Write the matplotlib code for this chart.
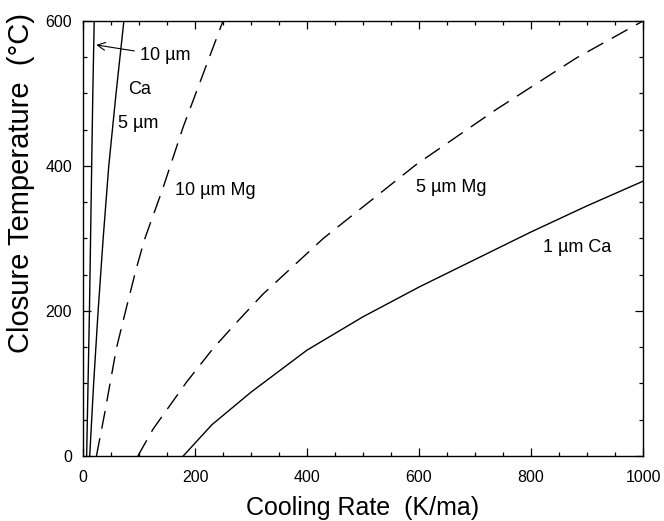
import numpy as np
import matplotlib
matplotlib.use("Agg")
import matplotlib.pyplot as plt
from matplotlib.ticker import MultipleLocator

plt.rcParams['font.family'] = ['Liberation Sans', 'DejaVu Sans']

# curves: cooling rate (K/ma) vs closure temperature (C)
ca10_rate = [6.5, 9, 11.5, 13.5, 15.5, 17.5, 20]
ca10_temp = [0, 100, 200, 300, 400, 500, 600]

ca5_rate = [12, 19, 27, 36, 46, 59, 73]
ca5_temp = [0, 100, 200, 300, 400, 500, 600]

mg10_rate = [24, 39, 59.5, 77, 95, 110, 143, 178.5, 214, 250]
mg10_temp = [0, 60, 148, 203, 258, 299, 370, 453, 526, 600]

mg5_rate = [98, 125, 185, 232, 274, 321, 363, 429, 494, 595, 738, 881, 1000]
mg5_temp = [0, 37, 102, 148, 184, 223, 253, 300, 340, 402, 478, 549, 600]

ca1_rate = [179, 230, 300, 400, 500, 600, 700, 800, 900, 1000]
ca1_temp = [0, 43, 88, 146, 192, 233, 271, 309, 345, 379]

x_ticks = [0, 200, 400, 600, 800, 1000]
y_ticks = [0, 200, 400, 600]


fig = plt.figure(figsize=(6.64, 5.21), dpi=100)
ax = fig.add_axes([0.125, 0.1248, 0.8434, 0.8349])

ax.plot(ca10_rate, ca10_temp, color='black', lw=1.0)
ax.plot(ca5_rate, ca5_temp, color='black', lw=1.0)
ax.plot(mg10_rate, mg10_temp, color='black', lw=1.0, dashes=(13, 7))
ax.plot(mg5_rate, mg5_temp, color='black', lw=1.0, dashes=(13, 7))
ax.plot(ca1_rate, ca1_temp, color='black', lw=1.0)

ax.set_xlim(0, 1000)
ax.set_ylim(0, 600)
ax.set_xticks(x_ticks)
ax.set_yticks(y_ticks)
ax.xaxis.set_minor_locator(MultipleLocator(50))
ax.yaxis.set_minor_locator(MultipleLocator(50))

# ticks inside on all four sides
ax.tick_params(which='both', direction='in', top=True, right=True, width=0.9)
ax.tick_params(which='major', length=6, labelsize=11.5)
ax.tick_params(which='minor', length=3.2)
ax.tick_params(axis='x', which='major', pad=10)
ax.tick_params(axis='y', which='major', pad=8)
for s in ax.spines.values():
    s.set_linewidth(1.0)

ax.set_xlabel('Cooling Rate  (K/ma)', fontsize=18)
ax.set_ylabel('Closure Temperature  (°C)', fontsize=21)
ax.xaxis.set_label_coords(0.5, -0.092)
ax.yaxis.set_label_coords(-0.085, 0.628)

# curve labels
ax.annotate('10 µm', xy=(23.5, 567), xytext=(101.5, 552), ha='left', va='center',
            fontsize=13,
            arrowprops=dict(arrowstyle='->', lw=0.8, color='black',
                            shrinkA=2, shrinkB=0, mutation_scale=14))
ax.text(80, 505, 'Ca', fontsize=13, ha='left', va='center')
ax.text(62.5, 459, '5 µm', fontsize=13, ha='left', va='center')
ax.text(164, 366, '10 µm Mg', fontsize=13, ha='left', va='center')
ax.text(595, 370, '5 µm Mg', fontsize=13, ha='left', va='center')
ax.text(821, 288, '1 µm Ca', fontsize=13, ha='left', va='center')

fig.savefig('out.png', dpi=100)
